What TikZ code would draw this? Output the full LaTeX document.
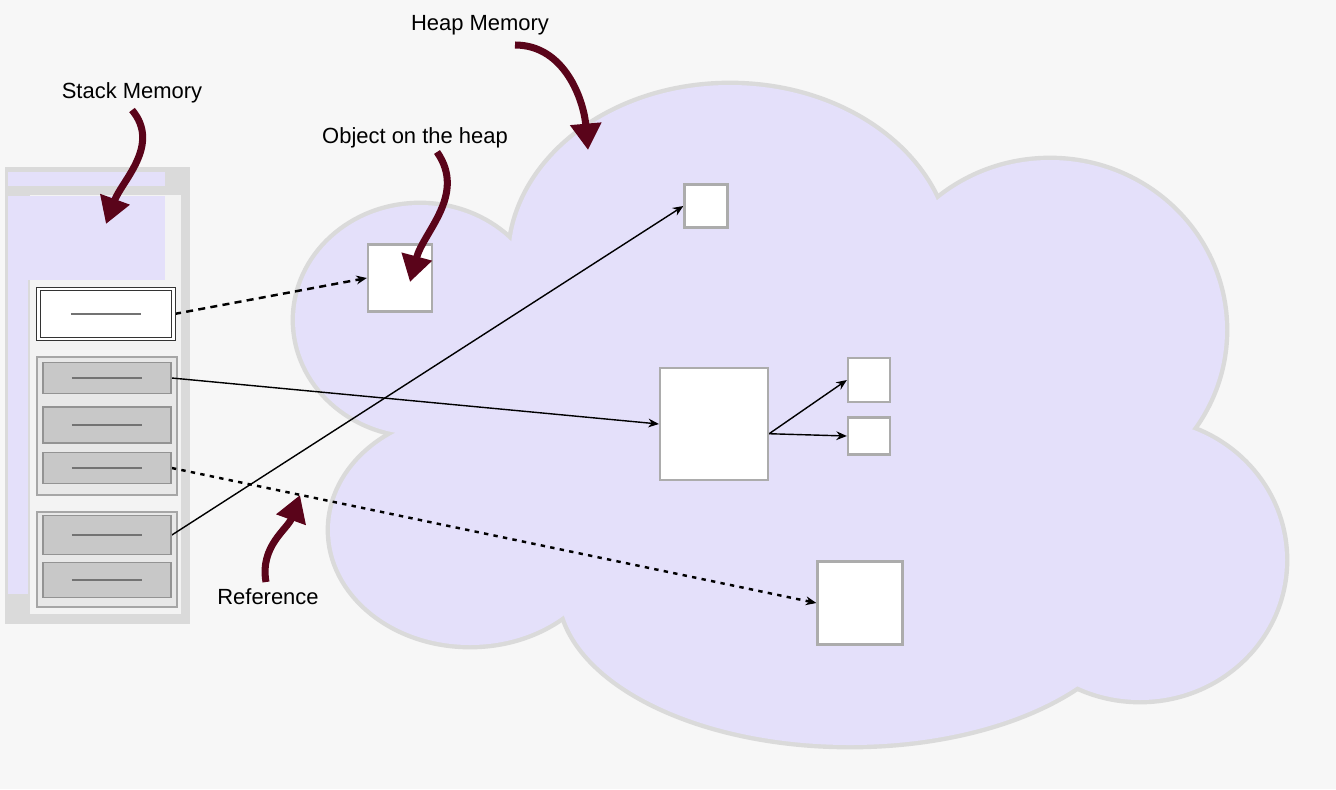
\documentclass[tikz,border=0pt]{standalone}
\usepackage{fontspec}
\setmainfont{Liberation Sans}
\usetikzlibrary{arrows.meta}
\pgfdeclarelayer{cloudlayer}
\pgfdeclarelayer{edgelayer}
\pgfdeclarelayer{nodelayer}
\pgfsetlayers{cloudlayer,edgelayer,nodelayer,main}
\definecolor{paper}{RGB}{247,247,247}
\definecolor{heap}{RGB}{228,224,250}
\definecolor{rim}{RGB}{218,218,218}
\definecolor{pointer}{RGB}{90,4,26}
\definecolor{slotgray}{RGB}{200,200,200}
\definecolor{groupgray}{RGB}{232,232,232}
\tikzstyle{none}=[inner sep=0pt]
\tikzstyle{memtext}=[inner sep=1pt,font=\fontsize{12.5}{14}\selectfont]
\tikzstyle{object}=[draw=gray!65,fill=white,line width=1.3pt,inner sep=0pt]
\tikzstyle{slot}=[draw=gray!85,fill=slotgray,line width=1pt,minimum width=2.56cm,inner sep=0pt]
\tikzstyle{topslot}=[draw=black!80,fill=white,double=white,double distance=1.2pt,line width=0.7pt,minimum width=2.7cm,minimum height=1cm,inner sep=0pt]
\tikzstyle{group}=[draw=gray!70,fill=groupgray,line width=1pt]
\tikzstyle{pointerarrow}=[-{Triangle[length=15pt,width=17pt]},line width=4pt,draw=pointer]
\tikzstyle{reference}=[-{Stealth[length=6pt,width=5pt]},draw=black,line width=0.8pt]
\tikzstyle{dashref}=[reference,line width=1.4pt,dash pattern=on 4pt off 3pt]
\tikzstyle{dotref}=[reference,line width=1.4pt,dash pattern=on 2.5pt off 3pt]

\begin{document}
\begin{tikzpicture}[x=0.02cm,y=-0.02cm]
	\useasboundingbox (0,0) rectangle (1336,789);
	\begin{pgfonlayer}{cloudlayer}
		\fill[paper] (0,0) rectangle (1336,789);
		% heap cloud: rim first, then the fill
		\foreach \cx/\cy/\rx/\ry in {420/320/125/115,730/260/220/175,1050/330/175/170,1140/560/145/140,850/590/290/155,470/530/140/115,760/430/330/200}
			\filldraw[draw=rim,fill=heap,line width=5pt] (\cx,\cy) ellipse [x radius=\rx,y radius=\ry];
		\foreach \cx/\cy/\rx/\ry in {420/320/125/115,730/260/220/175,1050/330/175/170,1140/560/145/140,850/590/290/155,470/530/140/115,760/430/330/200}
			\fill[heap] (\cx,\cy) ellipse [x radius=\rx,y radius=\ry];
		% stack frame
		\fill[rim] (5,167) rectangle (190,624);
		\fill[paper!70!groupgray] (30,195) rectangle (181,614);
		\fill[heap] (8,172) rectangle (165,186);
		\fill[heap] (20,196) rectangle (165,280);
		\fill[heap] (8,196) rectangle (28,594);
		\draw[group] (37,357) rectangle (177,495);
		\draw[group] (37,512) rectangle (177,607);
	\end{pgfonlayer}
	\begin{pgfonlayer}{nodelayer}
		\node [style=memtext] (0) at (480,25) {Heap Memory};
		\node [style=memtext] (1) at (132,93) {Stack Memory};
		\node [style=memtext] (2) at (415,138) {Object on the heap};
		\node [style=memtext] (3) at (268,597) {Reference};
		\node [style=object,minimum width=1.28cm,minimum height=1.34cm] (4) at (400,278) {};
		\node [style=object,minimum width=0.86cm,minimum height=0.86cm] (5) at (706,206) {};
		\node [style=object,minimum width=2.16cm,minimum height=2.24cm] (6) at (714,424) {};
		\node [style=object,minimum width=0.84cm,minimum height=0.88cm] (7) at (869,380) {};
		\node [style=object,minimum width=0.84cm,minimum height=0.74cm] (8) at (869,436) {};
		\node [style=object,minimum width=1.7cm,minimum height=1.66cm] (9) at (860,603) {};
		\node [style=topslot] (10) at (106,314) {};
		\node [style=slot,minimum height=0.62cm] (11) at (107,378) {};
		\node [style=slot,minimum height=0.72cm] (12) at (107,425) {};
		\node [style=slot,minimum height=0.62cm] (13) at (107,468) {};
		\node [style=slot,minimum height=0.78cm] (14) at (107,535) {};
		\node [style=slot,minimum height=0.7cm] (15) at (107,580) {};
		\foreach \n in {10,11,12,13,14,15}
			\draw[black!55,line width=1.2pt] ([xshift=-20pt]\n.center) -- ([xshift=20pt]\n.center);
		\coordinate (16) at (132,110);
		\coordinate (17) at (106,224);
		\coordinate (18) at (515,45);
		\coordinate (19) at (588,150);
		\coordinate (20) at (437,152);
		\coordinate (21) at (410,282);
		\coordinate (22) at (266,582);
		\coordinate (23) at (300,495);
	\end{pgfonlayer}
	\begin{pgfonlayer}{edgelayer}
		\draw [style=dashref] (10.east) to (4.west);
		\draw [style=reference] (11.east) to (6.west);
		\draw [style=dotref] (13.east) to (9.west);
		\draw [style=reference] (14.east) to (5.west);
		\draw [style=reference] (6.-10) to (7.west);
		\draw [style=reference] (6.-10) to (8.west);
	\end{pgfonlayer}
	\draw [style=pointerarrow] (16) to[out=-50,in=70] (17);
	\draw [style=pointerarrow] (18) to[out=0,in=95] (19);
	\draw [style=pointerarrow] (20) to[out=-55,in=75] (21);
	\draw [style=pointerarrow] (22) to[out=100,in=-110] (23);
\end{tikzpicture}
\end{document}
